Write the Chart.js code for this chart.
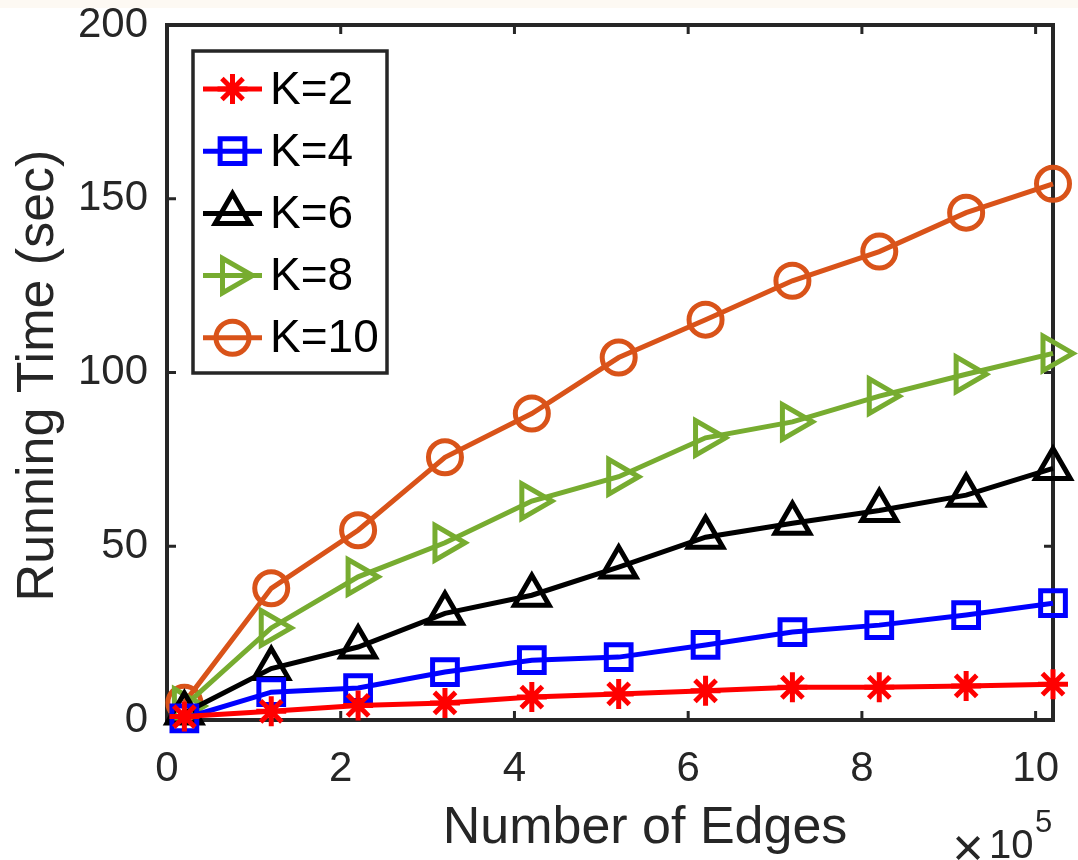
<!DOCTYPE html>
<html>
<head>
<meta charset="utf-8">
<script src="https://cdn.jsdelivr.net/npm/chart.js@4.4.1/dist/chart.umd.min.js"></script>
<style>
  html, body { margin: 0; padding: 0; background: #fff; }
  #wrap { position: relative; width: 1078px; height: 860px; }
  #strip { position: absolute; left: 0; top: 0; width: 1078px; height: 8px; background: #fdf9f3; }
  canvas { display: block; }
</style>
</head>
<body>
<div id="wrap">
  <canvas id="chart" width="1078" height="860"></canvas>
  <div id="strip"></div>
</div>
<script>
// number of edges, in units of 1e5
const edges = [0.2, 1.2, 2.2, 3.2, 4.2, 5.2, 6.2, 7.2, 8.2, 9.2, 10.2];

// running time in seconds for each K
const k2  = [1.0, 2.5, 4.2, 4.9, 6.6, 7.5, 8.4, 9.4, 9.4, 9.8, 10.3];
const k4  = [0.5, 8.0, 9.2, 13.8, 17.2, 18.1, 21.6, 25.3, 27.3, 30.2, 33.6];
const k6  = [2.0, 14.8, 21.0, 30.7, 35.9, 44.0, 52.6, 56.6, 60.3, 64.7, 72.4];
const k8  = [4.0, 26.5, 41.2, 51.0, 63.0, 70.0, 81.2, 85.8, 93.2, 99.5, 105.5];
const k10 = [5.0, 37.9, 54.6, 75.6, 88.2, 104.3, 115.2, 126.4, 134.8, 146.0, 154.3];

const xTicks = [0, 2, 4, 6, 8, 10];
const yTicks = [0, 50, 100, 150, 200];

const FONT = '"Liberation Sans", Arial, Helvetica, sans-serif';
const AXIS_COLOR = '#262626';

const toPoints = (ys) => edges.map((x, i) => ({ x: x, y: ys[i] }));

const makeSeries = (label, ys, color, style, radius, rotation) => ({
  label: label,
  data: toPoints(ys),
  borderColor: color,
  borderWidth: 5,
  pointStyle: style,
  pointRadius: radius,
  pointRotation: rotation || 0,
  pointBorderColor: color,
  pointBorderWidth: 5,
  pointBackgroundColor: 'rgba(0,0,0,0)',
  tension: 0,
  clip: false
});

// box around the plot with ticks pointing inward on all four sides
const boxPlugin = {
  id: 'box',
  beforeDatasetsDraw(chart) {
    const { ctx, chartArea: a, scales } = chart;
    const len = 9;
    ctx.save();
    ctx.strokeStyle = AXIS_COLOR;
    ctx.lineWidth = 3;
    ctx.beginPath();
    xTicks.forEach(v => {
      const px = scales.x.getPixelForValue(v);
      ctx.moveTo(px, a.bottom); ctx.lineTo(px, a.bottom - len);
      ctx.moveTo(px, a.top); ctx.lineTo(px, a.top + len);
    });
    yTicks.forEach(v => {
      const py = scales.y.getPixelForValue(v);
      ctx.moveTo(a.left, py); ctx.lineTo(a.left + len, py);
      ctx.moveTo(a.right, py); ctx.lineTo(a.right - len, py);
    });
    ctx.stroke();
    ctx.lineWidth = 4;
    ctx.strokeRect(a.left, a.top, a.right - a.left, a.bottom - a.top);
    ctx.restore();
  }
};

// axis titles and the x10^5 multiplier
const titlePlugin = {
  id: 'titles',
  afterDraw(chart) {
    const { ctx, chartArea: a } = chart;
    ctx.save();
    ctx.fillStyle = AXIS_COLOR;
    ctx.font = '52px ' + FONT;
    ctx.textAlign = 'center';
    ctx.textBaseline = 'alphabetic';
    ctx.fillText('Number of Edges', 645, 843);

    ctx.save();
    ctx.translate(53, (a.top + a.bottom) / 2 + 3);
    ctx.rotate(-Math.PI / 2);
    ctx.fillText('Running Time (sec)', 0, 0);
    ctx.restore();

    ctx.textAlign = 'center';
    ctx.font = '54px ' + FONT;
    ctx.fillText('\u00d7', 968, 866);
    ctx.textAlign = 'left';
    ctx.font = '40px ' + FONT;
    ctx.fillText('10', 989, 858);
    ctx.font = '31px ' + FONT;
    ctx.fillText('5', 1035, 832);
    ctx.restore();
  }
};

// legend in the upper-left corner: line sample with marker, then label
const legendPlugin = {
  id: 'boxLegend',
  afterDraw(chart) {
    const { ctx } = chart;
    const left = 193, top = 51, width = 194, height = 322;
    const firstRow = 89, rowStep = 62.2;
    ctx.save();
    ctx.fillStyle = '#fff';
    ctx.fillRect(left, top, width, height);
    ctx.strokeStyle = AXIS_COLOR;
    ctx.lineWidth = 3.5;
    ctx.strokeRect(left, top, width, height);

    chart.data.datasets.forEach((ds, i) => {
      const y = firstRow + i * rowStep;
      ctx.strokeStyle = ds.borderColor;
      ctx.lineWidth = ds.borderWidth;
      ctx.beginPath();
      ctx.moveTo(203, y);
      ctx.lineTo(262, y);
      ctx.stroke();
      ctx.lineWidth = ds.pointBorderWidth;
      ctx.fillStyle = ds.pointBackgroundColor;
      Chart.helpers.drawPoint(ctx, {
        pointStyle: ds.pointStyle,
        rotation: ds.pointRotation,
        radius: ds.pointRadius,
        borderWidth: ds.pointBorderWidth
      }, 232.5, y);

      ctx.fillStyle = '#000';
      ctx.font = '46px ' + FONT;
      ctx.textAlign = 'left';
      ctx.textBaseline = 'middle';
      ctx.fillText(ds.label, 270, y + 2);
    });
    ctx.restore();
  }
};

new Chart(document.getElementById('chart'), {
  type: 'line',
  data: {
    datasets: [
      makeSeries('K=2', k2, '#ff0000', 'star', 15),
      makeSeries('K=4', k4, '#0000ff', 'rect', 17.5),
      makeSeries('K=6', k6, '#000000', 'triangle', 20),
      makeSeries('K=8', k8, '#77ac30', 'triangle', 20, 90),
      makeSeries('K=10', k10, '#d95319', 'circle', 16.5)
    ]
  },
  options: {
    responsive: false,
    animation: false,
    layout: { padding: { top: 24, right: 16, left: 0, bottom: 0 } },
    plugins: { legend: { display: false }, tooltip: { enabled: false } },
    scales: {
      x: {
        type: 'linear',
        min: 0,
        max: 10.2,
        grid: { display: false, drawTicks: false },
        border: { display: false },
        afterFit(scale) {
          scale.height = 140;
          scale.paddingLeft = 0;
          scale.paddingRight = 0;
        },
        afterBuildTicks(scale) { scale.ticks = xTicks.map(v => ({ value: v })); },
        ticks: {
          font: { family: FONT, size: 42 },
          color: AXIS_COLOR,
          padding: 24,
          maxRotation: 0,
          autoSkip: false
        }
      },
      y: {
        type: 'linear',
        min: 0,
        max: 200,
        grid: { display: false, drawTicks: false },
        border: { display: false },
        afterFit(scale) {
          scale.width = 167;
          scale.paddingTop = 0;
          scale.paddingBottom = 0;
        },
        afterBuildTicks(scale) { scale.ticks = yTicks.map(v => ({ value: v })); },
        ticks: {
          font: { family: FONT, size: 42 },
          color: AXIS_COLOR,
          padding: 19,
          autoSkip: false
        }
      }
    }
  },
  plugins: [boxPlugin, titlePlugin, legendPlugin]
});
</script>
</body>
</html>
